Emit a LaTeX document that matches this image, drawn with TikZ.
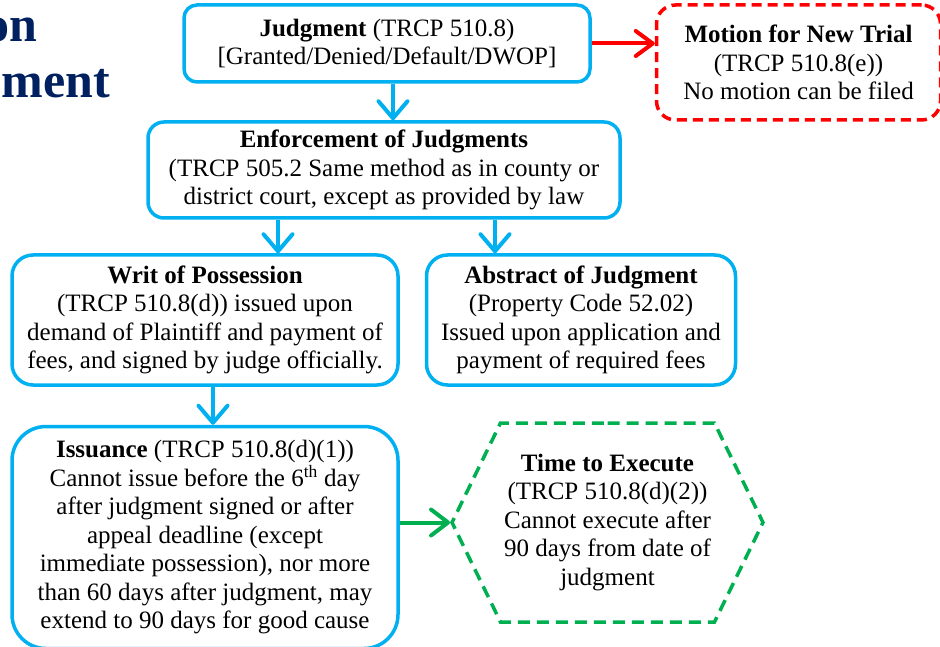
\documentclass[tikz,border=0pt]{standalone}
\usepackage{fontspec}
\setmainfont{Liberation Serif}
\usetikzlibrary{positioning,shapes.symbols,arrows.meta}
\definecolor{flowblue}{HTML}{00B0F0}
\definecolor{flowred}{HTML}{FF0000}
\definecolor{flowgreen}{HTML}{00B050}
\definecolor{titlenavy}{HTML}{002060}

\begin{document}
\begin{tikzpicture}[x=1pt, y=-1pt, node distance=40pt, auto]
    \tikzstyle{stage} = [rectangle, rounded corners=16pt, draw=flowblue, line width=3.5pt, fill=white, align=center, inner sep=4pt, font=\fontsize{25}{28.5}\selectfont]
    \tikzstyle{sidebox} = [stage, draw=flowred, dash pattern=on 10pt off 6pt]
    \tikzstyle{hexbox} = [signal, signal to=west and east, signal pointer angle=128, draw=flowgreen, line width=3.5pt, dash pattern=on 12pt off 7pt, align=center, inner sep=0pt, font=\fontsize{25}{28.5}\selectfont]
    \tikzstyle{flow} = [draw=flowblue, line width=4pt, ->, >={Straight Barb[length=17pt, width=29pt, round]}]
    \tikzstyle{redflow} = [flow, draw=flowred, >={Straight Barb[length=17pt, width=25pt, round]}]
    \tikzstyle{greenflow} = [flow, draw=flowgreen, >={Straight Barb[length=17pt, width=26pt, round]}]
    \tikzstyle{heading} = [inner sep=0pt, text=titlenavy, font=\fontsize{50}{56}\selectfont\bfseries]

    \useasboundingbox (0,0) rectangle (940,647);

    % Title (cut off at the left)
    \node [heading, anchor=base east] (titleon) at (38,42) {on};
    \node [heading, anchor=base east] (titlement) at (110,98) {ment};

    % Judgment and enforcement
    \node [stage, rounded corners=13pt, minimum width=406pt, minimum height=77pt] (judg) at (387,43.5)
        {\textbf{Judgment} (TRCP 510.8)\\ {[}Granted/Denied/Default/DWOP{]}};
    \node [sidebox, rounded corners=19pt, minimum width=284pt, minimum height=115pt, right=63pt of judg.north east, anchor=north west] (motion)
        {\textbf{Motion for New Trial}\\(TRCP 510.8(e))\\No motion can be filed};
    \node [stage, minimum width=472pt, minimum height=96pt] (enf) at (384,170)
        {\textbf{Enforcement of Judgments}\\(TRCP 505.2 Same method as in county or\\district court, except as provided by law};

    % Writs
    \node [stage, rounded corners=21pt, minimum width=386pt, minimum height=130pt] (writ) at (205,320)
        {\textbf{Writ of Possession}\\(TRCP 510.8(d)) issued upon\\demand of Plaintiff and payment of\\fees, and signed by judge officially.};
    \node [stage, rounded corners=21pt, minimum width=309pt, minimum height=130pt, right=25pt of writ] (abst)
        {\textbf{Abstract of Judgment}\\(Property Code 52.02)\\Issued upon application and\\payment of required fees};

    % Issuance and execution
    \node [stage, rounded corners=34pt, minimum width=386pt, minimum height=222pt, below=38pt of writ] (iss)
        {\textbf{Issuance} (TRCP 510.8(d)(1))\\Cannot issue before the 6\textsuperscript{th} day\\after judgment signed or after\\appeal deadline (except\\immediate possession), nor more\\than 60 days after judgment, may\\extend to 90 days for good cause};
    \node [hexbox, minimum width=311pt, minimum height=199pt] (hex) at (607.5,522.5)
        {\textbf{Time to Execute}\\(TRCP 510.8(d)(2))\\Cannot execute after\\90 days from date of\\judgment};

    % Connections
    \draw [redflow] (judg.east) -- (judg.east -| motion.west);
    \draw [flow] ([xshift=6pt]judg.south) -- ([xshift=6pt]judg.south |- enf.north);
    \draw [flow] ([xshift=-106pt]enf.south) -- ([xshift=-106pt]enf.south |- writ.north);
    \draw [flow] ([xshift=111pt]enf.south) -- ([xshift=111pt]enf.south |- abst.north);
    \draw [flow] ([xshift=8pt]writ.south) -- ([xshift=8pt]writ.south |- iss.north);
    \draw [greenflow] (iss.east |- hex.west) -- (hex.west);
\end{tikzpicture}
\end{document}
